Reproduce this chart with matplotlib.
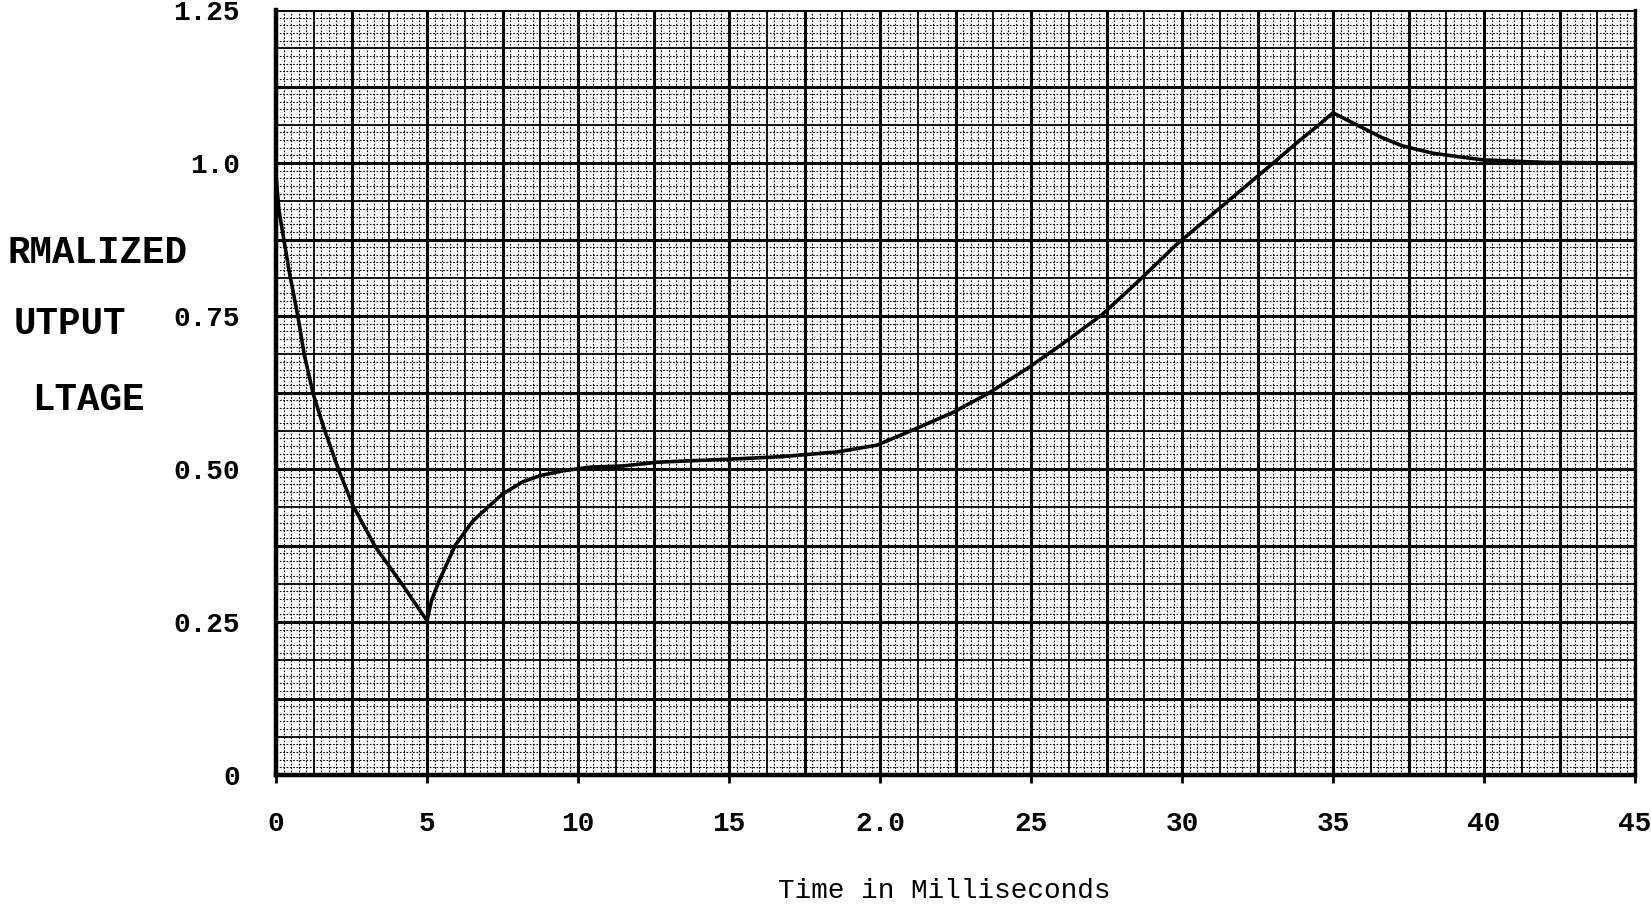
import numpy as np
import matplotlib
matplotlib.use("Agg")
import matplotlib.pyplot as plt

# ---- data ----
time_ms = [0.0, 0.1, 0.43, 0.73, 0.93, 1.23, 1.6, 2.1, 2.55, 3.3, 4.2, 5.0,
           5.15, 5.4, 5.93, 6.5, 7.07, 7.5, 8.17, 8.73, 9.5, 10.4, 11.5, 12.6,
           13.5, 15.0, 16.7, 18.6, 19.9, 21.1, 22.4, 23.6, 24.9, 26.0, 27.35,
           28.6, 29.8, 31.0, 32.3, 33.0, 33.9, 34.5, 35.0, 35.8, 36.6, 37.3,
           38.3, 39.2, 40.0, 42.0, 45.0]
voltage = [0.98, 0.922, 0.825, 0.748, 0.688, 0.623, 0.565, 0.495, 0.44, 0.372,
           0.31, 0.252, 0.285, 0.317, 0.375, 0.414, 0.44, 0.459, 0.479, 0.489,
           0.497, 0.503, 0.505, 0.511, 0.513, 0.516, 0.52, 0.528, 0.539, 0.564,
           0.592, 0.624, 0.665, 0.703, 0.752, 0.809, 0.866, 0.916, 0.97, 0.999,
           1.037, 1.061, 1.082, 1.062, 1.042, 1.028, 1.016, 1.01, 1.005, 1.001,
           1.0]

x_ticks = [0, 5, 10, 15, 20, 25, 30, 35, 40, 45]
x_tick_labels = ["0", "5", "10", "15", "2.0", "25", "30", "35", "40", "45"]
y_ticks = [0, 0.25, 0.50, 0.75, 1.0, 1.25]
y_tick_labels = ["0", "0.25", "0.50", "0.75", "1.0", "1.25"]
# visible part of the (left-clipped) y-axis caption in the reference
ylabel_lines = ["RMALIZED", "UTPUT", "LTAGE"]
xlabel = "Time in Milliseconds"

# ---- figure ----
W, H = 1651, 908
fig = plt.figure(figsize=(W / 100, H / 100), dpi=100)
ax = fig.add_axes([276 / W, 1 - 775 / H, (1635 - 276) / W, (775 - 10) / H])
ax.set_xlim(0, 45)
ax.set_ylim(0, 1.25)

# graph-paper grid
for xv in np.arange(0, 45.001, 0.25):
    k = int(round(xv / 0.25))
    if k % 10 == 0:
        ax.axvline(xv, color="black", lw=2.2, zorder=2)
    elif k % 5 == 0:
        ax.axvline(xv, color="black", lw=1.3, zorder=1.5)
    else:
        ax.axvline(xv, color="black", lw=0.8, ls=(0, (1.5, 1.5)), zorder=1)
for yv in np.arange(0, 1.2501, 0.0125):
    k = int(round(yv / 0.0125))
    if k % 10 == 0:
        ax.axhline(yv, color="black", lw=2.2, zorder=2)
    elif k % 5 == 0:
        ax.axhline(yv, color="black", lw=1.3, zorder=1.5)
    else:
        ax.axhline(yv, color="black", lw=0.8, ls=(0, (1.5, 1.5)), zorder=1)

ax.plot(time_ms, voltage, color="black", lw=2.6, zorder=5,
        solid_joinstyle="round")

for s in ["left", "bottom"]:
    ax.spines[s].set_linewidth(3.2)
ax.spines["right"].set_linewidth(2.4)
ax.spines["top"].set_visible(False)

num_font = dict(family="Liberation Mono", weight="bold", size=20)
ax.set_xticks(x_ticks, x_tick_labels, **num_font)
ax.set_yticks(y_ticks, y_tick_labels, **num_font)
ax.tick_params(axis="x", direction="out", length=6, width=2, pad=20)
ax.tick_params(axis="y", length=0, pad=26)

ax.set_xlabel(xlabel, family="Liberation Mono", size=20)
ax.xaxis.set_label_coords(0.4915, -0.1516)
ax.xaxis.label.set_va("center")

for txt, xr, yy in zip(ylabel_lines, [187, 126, 145], [253, 324, 400]):
    fig.text(xr / W, 1 - yy / H, txt, ha="right", va="center",
             family="Liberation Mono", weight="bold", size=27)

fig.savefig("out.png", dpi=100)
